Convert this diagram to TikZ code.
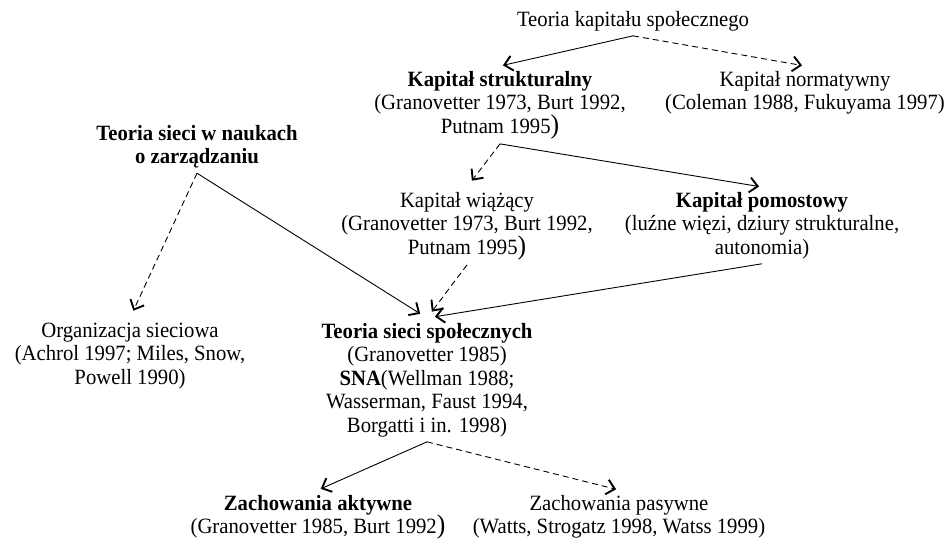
\documentclass[tikz,border=0pt]{standalone}
\usepackage{fontspec}
\setmainfont[FakeStretch=0.95]{Liberation Serif}
\usetikzlibrary{arrows.meta}
% closing parenthesis set one size larger, as in the printed references
\newcommand\bigparen{{\fontsize{27}{23.5}\selectfont)}}
\begin{document}
\begin{tikzpicture}[x=1pt,y=-1pt,
  every node/.style={align=center, inner sep=0pt, outer sep=5pt, anchor=north,
    font=\fontsize{21.8}{23.5}\selectfont},
  link/.style={line width=0.9pt, shorten >=3pt,
    -{Straight Barb[length=8pt,width=15pt,line width=1.9pt]}},
  weak/.style={link, dash pattern=on 6pt off 4pt},
  far/.style={shorten >=8pt}]
\useasboundingbox (0,0) rectangle (952,550);

% theory nodes
\node (title) at (633,6)   {Teoria kapitału społecznego};
\node (ks)    at (500,66)  {\textbf{Kapitał strukturalny}\\(Granovetter 1973, Burt 1992,\\Putnam 1995\bigparen};
\node (kn)    at (805,66)  {Kapitał normatywny\\(Coleman 1988, Fukuyama 1997)};
\node (tsn)   at (197,120) {\textbf{Teoria sieci w naukach}\\\textbf{o zarządzaniu}};
\node (kw)    at (467,187) {Kapitał wiążący\\(Granovetter 1973, Burt 1992,\\Putnam 1995\bigparen};
\node (kp)    at (762,187) {\textbf{Kapitał pomostowy}\\(luźne więzi, dziury strukturalne,\\autonomia)};
\node (os)    at (130,318) {Organizacja sieciowa\\(Achrol 1997; Miles, Snow,\\Powell 1990)};
\node (tss)   at (427,318) {\textbf{Teoria sieci społecznych}\\(Granovetter 1985)\\\textbf{SNA}(Wellman 1988;\\Wasserman, Faust 1994,\\Borgatti i in. 1998)};
\node (za)    at (318,490) {\textbf{Zachowania aktywne}\\(Granovetter 1985, Burt 1992\bigparen};
\node (zp)    at (619,490) {Zachowania pasywne\\(Watts, Strogatz 1998, Watss 1999)};

% connectors: solid = strong link, dashed = weak link
\draw[link] (title.south) -- (ks.north);
\draw[weak] (title.south) -- (kn.north);
\draw[weak,far] (ks.south) -- (kw.north);
\draw[link] (ks.south) -- (kp.north);
\draw[weak,far] (tsn.south) -- (os.north);
\draw[link,far] (tsn.south) -- (tss.north);
\draw[weak,far] (kw.south) -- (tss.north);
\draw[link,far] (kp.south) -- (tss.north);
\draw[link] (tss.south) -- (za.north);
\draw[weak] (tss.south) -- (zp.north);
\end{tikzpicture}
\end{document}
